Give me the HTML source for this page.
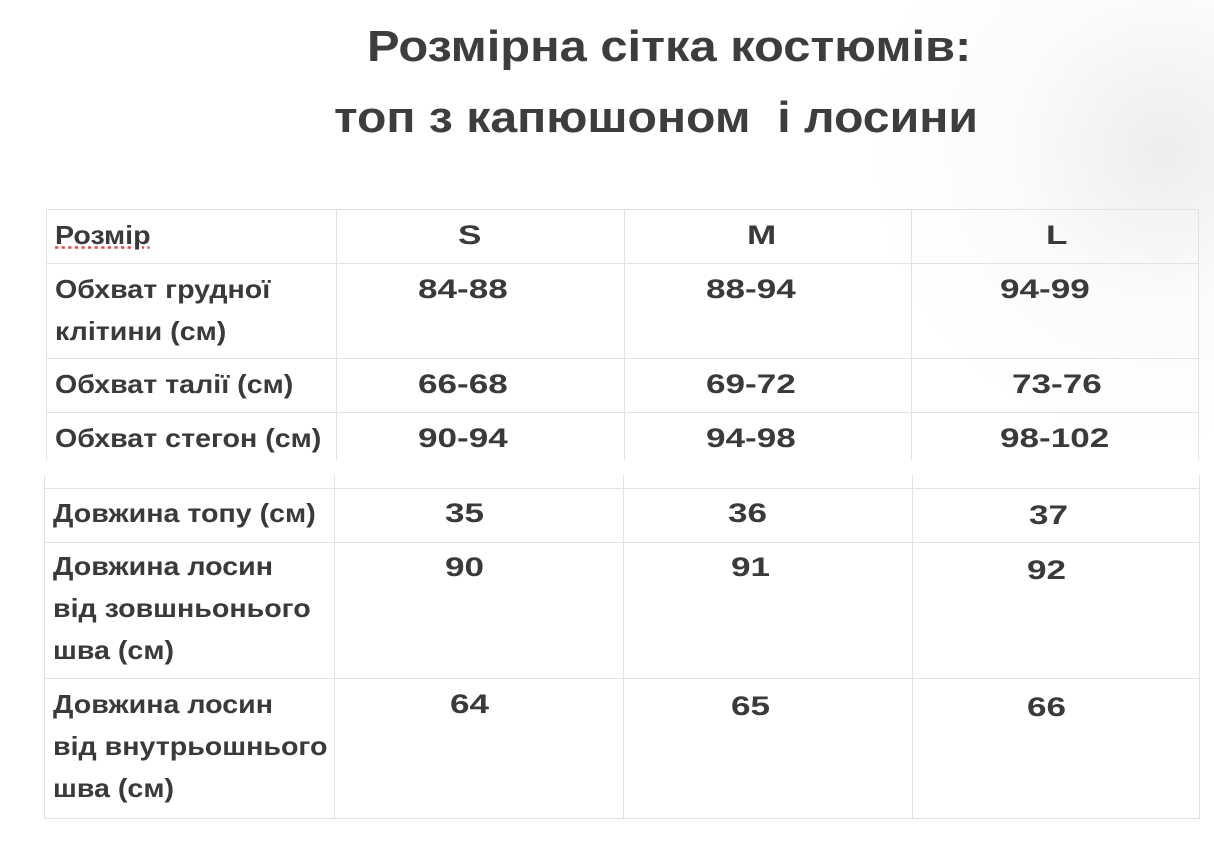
<!DOCTYPE html>
<html><head><meta charset="utf-8"><style>
body{margin:0;width:1214px;height:858px;background:#fff;position:relative;overflow:hidden;font-family:"Liberation Sans",sans-serif;color:#3a3a3a}
.bg{position:absolute;right:-250px;top:-150px;width:600px;height:600px;background:radial-gradient(circle at 50% 50%,rgba(230,230,230,0.7) 0%,rgba(245,245,245,0.4) 35%,rgba(255,255,255,0) 70%)}
.t{position:absolute;font-weight:bold;white-space:nowrap;transform-origin:0 0}
.h{font-size:44px;color:#3d3d3d;transform:scaleX(1.11)}
.c{font-size:26px;line-height:42px;transform:scaleX(1.1)}
.n{font-size:27px;line-height:42px;transform:scaleX(1.3)}
.l{position:absolute;background:#e2e2e2}
</style></head><body>
<div class="bg"></div>
<div class="t h" style="left:367px;top:22px">Розмірна сітка костюмів:</div>
<div class="t h" style="left:334px;top:93px;transform:scaleX(1.095)">топ з капюшоном&nbsp; і лосини</div>

<div class="l" style="left:46px;top:209px;width:1152px;height:1px"></div>
<div class="l" style="left:46px;top:263px;width:1152px;height:1px"></div>
<div class="l" style="left:46px;top:358px;width:1152px;height:1px"></div>
<div class="l" style="left:46px;top:412px;width:1152px;height:1px"></div>
<div class="l" style="left:46px;top:209px;width:1px;height:251px"></div>
<div class="l" style="left:336px;top:209px;width:1px;height:251px"></div>
<div class="l" style="left:624px;top:209px;width:1px;height:251px"></div>
<div class="l" style="left:911px;top:209px;width:1px;height:251px"></div>
<div class="l" style="left:1198px;top:209px;width:1px;height:251px"></div>
<div class="l" style="left:44px;top:488px;width:1156px;height:1px"></div>
<div class="l" style="left:44px;top:542px;width:1156px;height:1px"></div>
<div class="l" style="left:44px;top:678px;width:1156px;height:1px"></div>
<div class="l" style="left:44px;top:818px;width:1156px;height:1px"></div>
<div class="l" style="left:44px;top:475px;width:1px;height:343px"></div>
<div class="l" style="left:334px;top:475px;width:1px;height:343px"></div>
<div class="l" style="left:623px;top:475px;width:1px;height:343px"></div>
<div class="l" style="left:912px;top:475px;width:1px;height:343px"></div>
<div class="l" style="left:1199px;top:475px;width:1px;height:343px"></div>

<div class="t c" style="left:55px;top:214px;text-decoration:underline dotted #e05050">Розмір</div>
<div class="t n" style="left:458px;top:214px">S</div>
<div class="t n" style="left:747px;top:214px">M</div>
<div class="t n" style="left:1046px;top:214px">L</div>

<div class="t c" style="left:55px;top:268px">Обхват грудної<br>клітини (см)</div>
<div class="t n" style="left:418px;top:268px">84-88</div>
<div class="t n" style="left:706px;top:268px">88-94</div>
<div class="t n" style="left:1000px;top:268px">94-99</div>

<div class="t c" style="left:55px;top:363px">Обхват талії (см)</div>
<div class="t n" style="left:418px;top:363px">66-68</div>
<div class="t n" style="left:706px;top:363px">69-72</div>
<div class="t n" style="left:1012px;top:363px">73-76</div>

<div class="t c" style="left:55px;top:417px">Обхват стегон (см)</div>
<div class="t n" style="left:418px;top:417px">90-94</div>
<div class="t n" style="left:706px;top:417px">94-98</div>
<div class="t n" style="left:1000px;top:417px">98-102</div>

<div class="t c" style="left:53px;top:492px">Довжина топу (см)</div>
<div class="t n" style="left:445px;top:492px">35</div>
<div class="t n" style="left:728px;top:492px">36</div>
<div class="t n" style="left:1029px;top:494px">37</div>

<div class="t c" style="left:53px;top:545px">Довжина лосин<br>від зовшньонього<br>шва (см)</div>
<div class="t n" style="left:445px;top:546px">90</div>
<div class="t n" style="left:731px;top:546px">91</div>
<div class="t n" style="left:1027px;top:549px">92</div>

<div class="t c" style="left:53px;top:683px">Довжина лосин<br>від внутрьошнього<br>шва (см)</div>
<div class="t n" style="left:450px;top:683px">64</div>
<div class="t n" style="left:731px;top:685px">65</div>
<div class="t n" style="left:1027px;top:686px">66</div>
</body></html>
